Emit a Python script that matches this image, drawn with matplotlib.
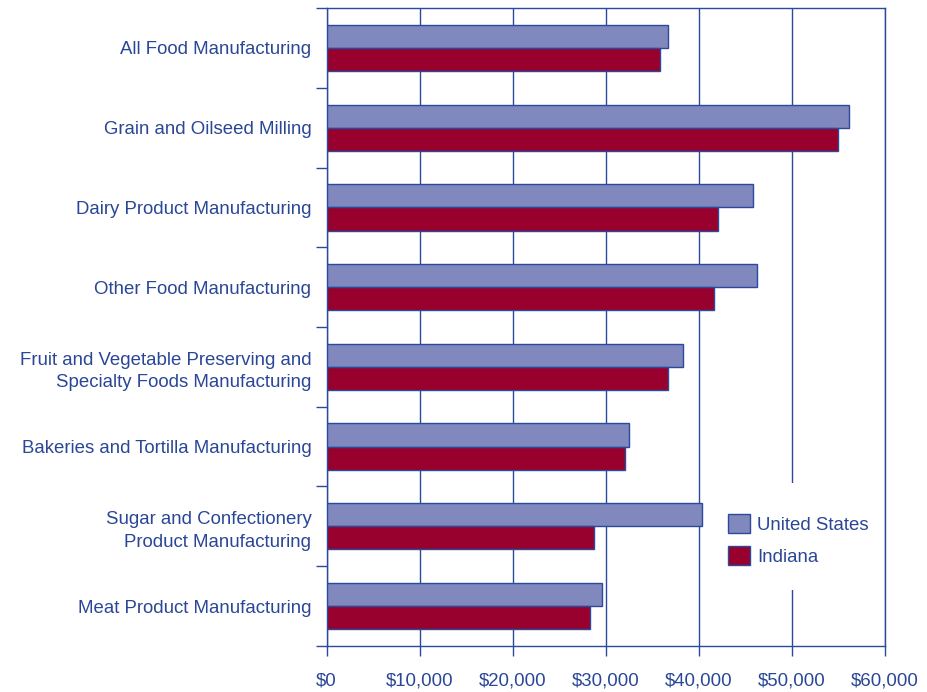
import matplotlib
matplotlib.use("Agg")
import matplotlib.pyplot as plt
import numpy as np
from matplotlib.patches import Patch, Rectangle

categories = [
    "All Food Manufacturing",
    "Grain and Oilseed Milling",
    "Dairy Product Manufacturing",
    "Other Food Manufacturing",
    "Fruit and Vegetable Preserving and\nSpecialty Foods Manufacturing",
    "Bakeries and Tortilla Manufacturing",
    "Sugar and Confectionery\nProduct Manufacturing",
    "Meat Product Manufacturing",
]
us_values = [36650, 56160, 45780, 46250, 38290, 32490, 40370, 29550]
indiana_values = [35820, 54980, 42050, 41620, 36680, 32060, 28730, 28300]
xticks = [0, 10000, 20000, 30000, 40000, 50000, 60000]
xtick_labels = ["$0", "$10,000", "$20,000", "$30,000", "$40,000", "$50,000", "$60,000"]

US_COLOR = "#8088BE"
IN_COLOR = "#98002E"
EDGE = "#2B4A9B"
TEXT = "#2A4797"

plt.rcParams["font.family"] = ["Liberation Sans", "DejaVu Sans"]
FS = 13.4

fig = plt.figure(figsize=(9.27, 6.92), dpi=100)
ax = fig.add_axes([0.3524, 0.0665, 0.6023, 0.9219])

y = np.arange(len(categories))
h = 0.29
ax.barh(y - h / 2, us_values, height=h, color=US_COLOR, edgecolor=EDGE, linewidth=1.0, zorder=3, label="United States")
ax.barh(y + h / 2, indiana_values, height=h, color=IN_COLOR, edgecolor=EDGE, linewidth=1.0, zorder=3, label="Indiana")

ax.set_xlim(0, 60000)
ax.set_ylim(len(categories) - 0.5, -0.5)

ax.set_xticks(xticks)
ax.set_xticklabels(xtick_labels, fontsize=FS, color=TEXT)
ax.tick_params(axis="x", direction="out", length=7, width=1, color=EDGE, pad=12)

ax.set_yticks(np.arange(-0.5, len(categories), 1.0))
ax.set_yticklabels([])
ax.set_yticks(y, minor=True)
ax.set_yticklabels(categories, minor=True, fontsize=FS, color=TEXT, linespacing=1.4)
ax.tick_params(axis="y", which="major", direction="out", length=8, width=1, color=EDGE)
ax.tick_params(axis="y", which="minor", length=0, pad=11)

for s in ax.spines.values():
    s.set_color(EDGE)
    s.set_linewidth(1.0)

ax.xaxis.grid(True, color=EDGE, linewidth=1.0, zorder=1)
ax.set_axisbelow(True)

ax.add_patch(Rectangle((0.72, 0.088), 0.25, 0.168, transform=ax.transAxes,
                       facecolor="white", edgecolor="none", zorder=2))

handles = [Patch(facecolor=US_COLOR, edgecolor=EDGE, label="United States"),
           Patch(facecolor=IN_COLOR, edgecolor=EDGE, label="Indiana")]
leg = ax.legend(handles=handles, loc="center left", bbox_to_anchor=(0.689, 0.166),
                frameon=False, fontsize=FS, handlelength=1.2, handleheight=1.2,
                handletextpad=0.35, labelspacing=0.68, labelcolor=TEXT)
leg.set_zorder(4)

fig.savefig("out.png", dpi=100)
